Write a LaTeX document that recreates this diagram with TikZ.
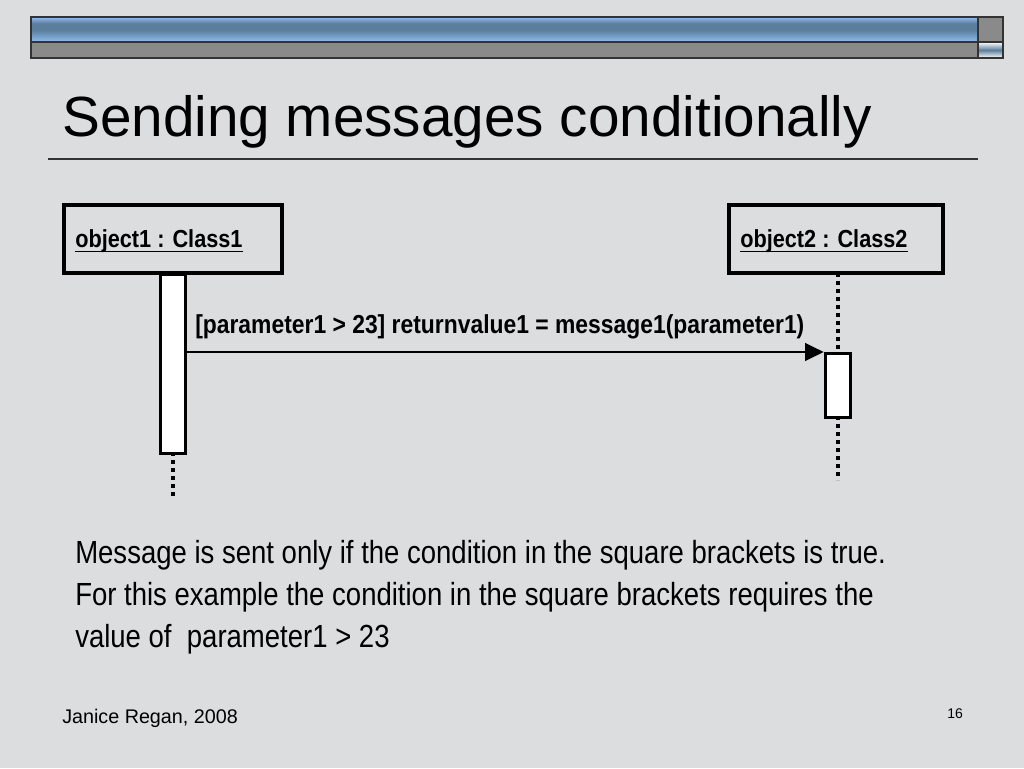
\documentclass[tikz,border=0pt]{standalone}
\usepackage{fontspec}
\setmainfont{Liberation Sans}
\newfontfamily\narrow[FakeStretch=0.86]{Liberation Sans}
\newfontfamily\narrowb[FakeStretch=0.88]{Liberation Sans}
\usetikzlibrary{arrows.meta}
\definecolor{bg}{HTML}{DCDDDF}
\definecolor{barblue}{HTML}{8FBFEF}
\definecolor{bardark}{HTML}{5B7E9C}
\definecolor{bargray}{HTML}{8A8A8A}
\begin{document}
\begin{tikzpicture}[x=0.75pt,y=-0.75pt,
  obj/.style={draw=black,line width=3pt,fill=none},
  act/.style={draw=black,line width=2.6pt,fill=white},
  life/.style={line width=3pt,dash pattern=on 3pt off 3pt},
  lbl/.style={font=\narrowb\bfseries\fontsize{18.5}{20}\selectfont,anchor=west,inner sep=0pt}]
\fill[bg] (0,0) rectangle (1024,768);
\useasboundingbox (0,0) rectangle (1024,768);
% top bar
\shade[top color=barblue,bottom color=bardark,middle color=bardark] (31,17) rectangle (978,30);
\shade[top color=bardark,bottom color=barblue] (31,30) rectangle (978,42);
\draw[line width=1pt,black!80] (31,17) rectangle (978,42);
\fill[bargray] (31,42) rectangle (978,58);
\draw[line width=1pt,black!80] (31,42) rectangle (978,58);
\fill[bargray] (978,17) rectangle (1003,42);
\draw[line width=1pt,black!80] (978,17) rectangle (1003,42);
\shade[top color=white,bottom color=white,middle color=bardark] (978,42) rectangle (1003,58);
\draw[line width=1pt,black!80] (978,42) rectangle (1003,58);
% title
\node[anchor=base west,inner sep=0pt,font=\fontsize{42.5}{48}\selectfont] (title) at (62,136) {Sending messages conditionally};
\draw[line width=0.8pt,black!80] (48,159) -- (978,159);
% objects
\draw[obj] (64,205) rectangle (282,273);
\node[lbl] (o1) at (75,241) {object1 : Class1};
\draw[line width=1pt] ([yshift=-3pt]o1.base west) -- ([yshift=-3pt]o1.base east);
\draw[obj] (729,205) rectangle (943,273);
\node[lbl] (o2) at (740,241) {object2 : Class2};
\draw[line width=1pt] ([yshift=-3pt]o2.base west) -- ([yshift=-3pt]o2.base east);
% lifelines
\coordinate (l1a) at (173,452); \coordinate (l1b) at (173,497);
\draw[life] (l1a) -- (l1b);
\coordinate (l2a) at (838,273); \coordinate (l2b) at (838,352);
\coordinate (l2c) at (838,416); \coordinate (l2d) at (838,480);
\draw[life] (l2a) -- (l2b);
\draw[life] (l2c) -- (l2d);
\node[act,minimum width=18.75pt,minimum height=134pt,anchor=north,inner sep=0pt] (a1) at (173,273) {};
\node[act,minimum width=18.75pt,minimum height=48pt,anchor=north,inner sep=0pt] (a2) at (838,352) {};
\draw[line width=2.2pt,-{Triangle[length=14pt,width=13pt]}] (a1.east|-0,352) -- (a2.north west);
\node[lbl,font=\narrowb\bfseries\fontsize{19.5}{22}\selectfont] (msg) at (195,327) {[parameter1 > 23] returnvalue1 = message1(parameter1)};
% body text
\node[anchor=north west,align=left,inner sep=0pt,font=\narrow\fontsize{24}{31.5}\selectfont] (body) at (75,540)
 {Message is sent only if the condition in the square brackets is true.\\
  For this example the condition in the square brackets requires the\\
  value of\ \ parameter1 > 23};
\node[anchor=base west,inner sep=0pt,font=\fontsize{14.8}{16}\selectfont] (foot) at (62,723) {Janice Regan, 2008};
\node[anchor=base west,inner sep=0pt,font=\fontsize{10.5}{12}\selectfont] (pg) at (947,718) {16};
\end{tikzpicture}
\end{document}
